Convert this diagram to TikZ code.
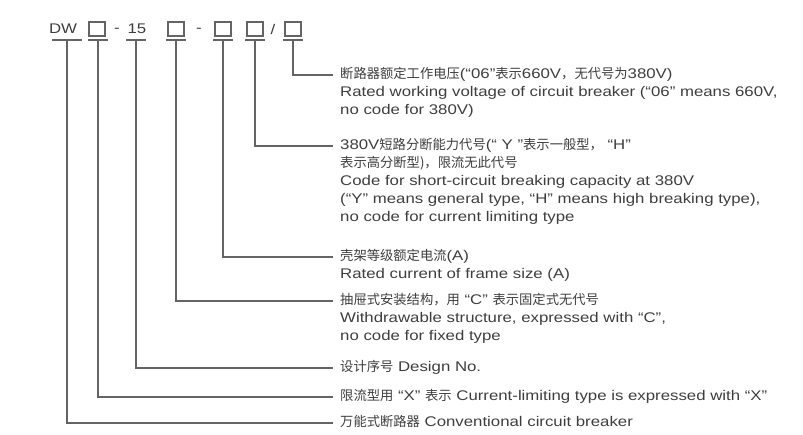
\documentclass[tikz,border=0pt]{standalone}
\usepackage{fontspec}
\setmainfont{Liberation Sans}[FakeStretch=1.2]
\newfontfamily\cjk{Noto Sans CJK SC}[Scale=0.95]
\usetikzlibrary{positioning}
\definecolor{ink}{RGB}{62,62,62}
\definecolor{rulec}{RGB}{100,100,100}
\newcommand{\zh}[1]{{\cjk #1}}

\begin{document}
\begin{tikzpicture}[x=1pt, y=-1pt, text=ink,
  font=\fontsize{14}{18}\selectfont,
  codebox/.style={draw=rulec, line width=1.1pt, minimum width=16pt, minimum height=14pt, inner sep=0pt},
  codetxt/.style={inner sep=0pt, font=\fontsize{14}{16}\selectfont},
  desc/.style={anchor=north west, align=left, inner sep=0pt},
  lead/.style={draw=rulec, line width=1.3pt},
  uline/.style={draw=rulec, line width=1.3pt}]

\useasboundingbox (0,0) rectangle (803,434);

%% ── model code row ──────────────────────────────────────────
\node[codetxt] (dw) at (63,29) {DW};
\node[codebox] (b1) at (97,29) {};
\node[codetxt] (d1) at (117,30) {-};
\node[codetxt] (n15) at (137,29) {15};
\node[codebox] (b2) at (176,29) {};
\node[codetxt] (d2) at (199,30) {-};
\node[codebox] (b3) at (223,29) {};
\node[codebox] (b4) at (255,29) {};
\node[codetxt] (sl) at (273,29) {/};
\node[codebox] (b5) at (293,29) {};

% underline stubs (the T heads)
\foreach \n/\x/\w in {dw/67/15, b1/98/10, n15/136/10, b2/176/10, b3/223/10, b4/255/10, b5/293/10}{
  \coordinate (u\n) at (\x,40);
  \draw[uline] ([xshift=-\w pt]u\n) -- ([xshift=\w pt]u\n);
}

%% ── descriptions ────────────────────────────────────────────
\node[desc] (t5) at (340,67) {\zh{断路器额定工作电压}(“06”\zh{表示}660V\zh{，无代号为}380V)\\
  Rated working voltage of circuit breaker (“06” means 660V,\\
  no code for 380V)};
\node[desc] (t4) at (340,138) {380V\zh{短路分断能力代号}(“ Y ”\zh{表示一般型，} “H”\\
  \zh{表示高分断型)，限流无此代号}\\
  Code for short-circuit breaking capacity at 380V\\
  (“Y” means general type, “H” means high breaking type),\\
  no code for current limiting type};
\node[desc] (t3) at (340,249) {\zh{壳架等级额定电流}(A)\\
  Rated current of frame size (A)};
\node[desc] (t2) at (340,293) {\zh{抽屉式安装结构，用} “C” \zh{表示固定式无代号}\\
  Withdrawable structure, expressed with “C”,\\
  no code for fixed type};
\node[desc] (t15) at (340,360) {\zh{设计序号} Design No.};
\node[desc] (t1) at (340,389) {\zh{限流型用} “X” \zh{表示} Current-limiting type is expressed with “X”};
\node[desc] (tdw) at (340,415) {\zh{万能式断路器} Conventional circuit breaker};

%% ── leaders ─────────────────────────────────────────────────
\foreach \n/\t in {b5/t5, b4/t4, b3/t3, b2/t2, n15/t15, b1/t1, dw/tdw}{
  \draw[lead] (u\n) |- ([xshift=-7pt,yshift=-8pt]\t.north west);
}

\end{tikzpicture}
\end{document}
